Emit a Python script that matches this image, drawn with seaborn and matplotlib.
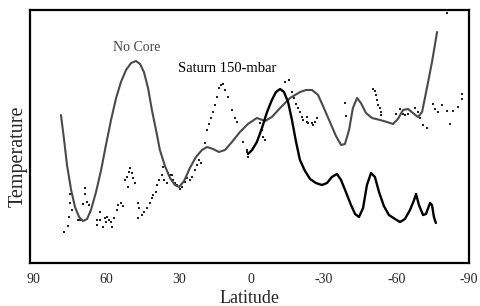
import numpy as np
import pandas as pd
import matplotlib
matplotlib.use("Agg")
import matplotlib.pyplot as plt
import seaborn as sns

# --- model curve "No Core" (latitude, temperature in arbitrary units)
nocore_lat = [78.7, 77.4, 76.2, 74.5, 72.9, 71.2, 69.6, 67.9, 66.3, 64.2, 62.1, 60.1,
              58.0, 55.9, 53.9, 51.8, 49.7, 47.7, 46.0, 44.4, 42.7, 41.1, 39.4, 37.8,
              35.7, 33.6, 31.6, 29.9, 27.8, 25.4, 22.9, 20.4, 18.3, 15.8, 13.4, 10.9,
              8.0, 4.7, 1.4, -2.3, -5.7, -8.5, -11.9, -16.0, -20.2, -22.6, -25.1, -27.6,
              -30.0, -32.5, -35.0, -37.1, -38.7, -40.4, -42.0, -43.7, -45.3, -47.4, -49.9,
              -53.2, -56.1, -58.6, -60.6, -62.7, -64.8, -66.8, -68.9, -70.6, -72.6, -74.7,
              -76.8]
nocore_temp = [148, 123, 98, 73, 56, 46, 42, 44, 53, 71, 93, 118,
               143, 165, 181, 193, 200, 202, 199, 191, 175, 153, 133, 113,
               97, 85, 78, 76, 82, 95, 106, 113, 116, 114, 111, 113,
               121, 131, 139, 145, 142, 146, 155, 165, 171, 173, 173, 168,
               155, 141, 127, 118, 119, 133, 155, 165, 160, 150, 145,
               143, 141, 139, 144, 153, 154, 150, 146, 151, 175, 201,
               231]

# --- second model curve (solid black)
core_lat = [1.4, -0.3, -2.3, -4.4, -6.5, -8.5, -10.2, -11.9, -13.5, -15.2, -16.8, -18.5,
            -20.1, -22.2, -24.3, -26.7, -29.2, -31.3, -33.3, -35.4, -37.1, -39.1, -41.2,
            -42.9, -44.5, -46.2, -47.8, -49.5, -51.1, -52.8, -54.8, -56.9, -59.4, -61.5,
            -63.5, -65.6, -67.3, -68.1, -69.3, -71.0, -72.2, -73.9, -74.7, -75.5, -76.3]
core_temp = [109, 113, 121, 135, 151, 163, 171, 174, 171, 161, 143, 121,
             103, 92, 84, 80, 78, 80, 86, 89, 83, 71, 58,
             49, 46, 55, 78, 90, 86, 71, 57, 48, 44, 41,
             44, 53, 63, 69, 58, 48, 49, 60, 58, 46, 40]

# --- Saturn 150-mbar observations (dots)
saturn_lat = [77.4, 75.8, 75.4, 75.0, 75.0, 74.1, 71.7, 70.8, 69.6, 68.8, 68.8, 67.9,
              67.1, 66.7, 63.8, 63.8, 62.6, 62.6, 61.3, 60.5, 60.1, 59.7, 58.8, 58.0,
              57.6, 56.8, 55.5, 55.1, 53.9, 53.1, 52.2, 51.4, 50.6, 50.2, 49.3, 48.9,
              48.1, 51.0, 46.8, 46.4, 46.8, 45.2, 44.4, 43.1, 41.9, 41.1, 40.7, 39.4,
              39.0, 38.2, 36.9, 36.5, 36.1, 34.9, 34.4, 33.6, 32.8, 32.4, 31.6, 30.7,
              29.5, 28.7, 27.4, 26.6, 25.4, 24.5, 23.3, 22.5, 21.6, 20.8, 19.2, 18.3,
              17.5, 16.7, 15.8, 15.0, 14.2, 13.4, 12.6, 11.7, 10.9, 9.6, 8.0, 6.7,
              5.8, 3.9, 3.4, 1.8, 1.4, 1.8, -0.7, -3.6, -4.4, -4.8, -5.7, -13.9,
              -15.6, -16.8, -17.6, -18.5, -19.3, -20.1, -21.0, -21.4, -23.0, -23.0, -23.4, -25.1,
              -25.5, -26.3, -27.2, -38.7, -39.1, -50.3, -51.1, -51.5, -52.0, -52.4, -53.2, -53.6,
              -53.6, -59.8, -61.5, -62.7, -63.5, -64.8, -67.7, -68.9, -69.7, -71.0, -72.6, -75.1,
              -75.9, -77.2, -78.8, -80.9, -80.9, -82.1, -83.4, -85.4, -87.1, -87.1]
saturn_temp = [31, 37, 46, 60, 69, 53, 43, 43, 59, 75, 69, 61,
               58, 51, 43, 38, 51, 43, 36, 45, 41, 46, 43, 41,
               36, 45, 53, 58, 60, 57, 83, 86, 91, 95, 90, 85,
               80, 76, 60, 55, 45, 48, 51, 55, 60, 65, 68, 71,
               78, 83, 88, 96, 83, 80, 90, 88, 88, 83, 80, 78,
               74, 76, 81, 85, 83, 86, 93, 98, 103, 100, 120, 133,
               139, 145, 151, 158, 166, 175, 178, 179, 173, 166, 153, 145,
               141, 133, 121, 113, 106, 111, 115, 140, 133, 126, 123, 181,
               183, 171, 165, 159, 155, 151, 146, 143, 146, 141, 140, 140,
               138, 141, 145, 160, 147, 174, 172, 168, 163, 158, 155, 151,
               148, 149, 154, 149, 148, 149, 155, 151, 145, 138, 135, 159,
               154, 151, 158, 250, 152, 139, 152, 156, 164, 169]

x_ticks = [90, 60, 30, 0, -30, -60, -90]
x_tick_labels = ["90", "60", "30", "0", "-30", "-60", "-90"]

nocore = pd.DataFrame({"lat": nocore_lat, "temp": nocore_temp})
core = pd.DataFrame({"lat": core_lat, "temp": core_temp})
saturn = pd.DataFrame({"lat": saturn_lat, "temp": saturn_temp})

sns.set_style("white")
plt.rcParams["font.family"] = ["Liberation Serif", "DejaVu Serif"]

fig = plt.figure(figsize=(4.8, 3.06), dpi=100)
ax = fig.add_axes([30 / 480, 1 - 263 / 306, 439 / 480, 253 / 306])

sns.scatterplot(data=saturn, x="lat", y="temp", ax=ax, color="#222222", s=1.6,
                marker="s", linewidth=0, legend=False)
sns.lineplot(data=nocore, x="lat", y="temp", ax=ax, sort=False, estimator=None,
             color="#4a4a4a", linewidth=1.5)
sns.lineplot(data=core, x="lat", y="temp", ax=ax, sort=False, estimator=None,
             color="black", linewidth=1.7)

ax.set_xlim(91.5, -90)
ax.set_ylim(0, 253)
ax.set_xticks(x_ticks)
ax.set_xticklabels(x_tick_labels)
ax.set_yticks([])
ax.tick_params(axis="x", length=0, pad=7, labelsize=10)
for s in ax.spines.values():
    s.set_color("black")
    s.set_linewidth(1.6)

ax.set_xlabel("Latitude", fontsize=13, labelpad=3)
ax.set_ylabel("Temperature", fontsize=14.5)
ax.yaxis.set_label_coords(-0.006, 0.42)

ax.text(47.5, 216, "No Core", fontsize=10, color="#444444", ha="center", va="center")
ax.text(10.0, 195, "Saturn 150-mbar", fontsize=10.5, color="black", ha="center", va="center")

fig.savefig("out.png", dpi=100)
